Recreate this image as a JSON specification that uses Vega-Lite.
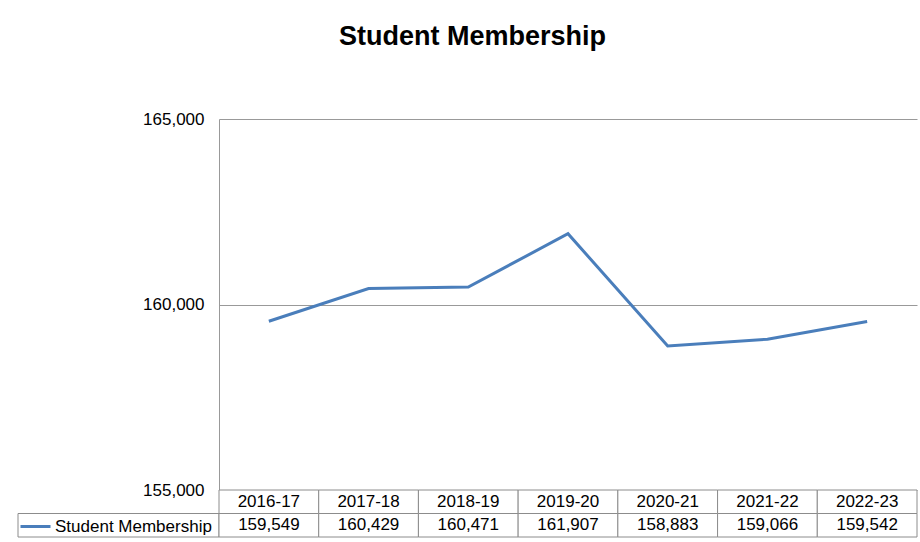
{
  "$schema": "https://vega.github.io/schema/vega-lite/v6.json",
  "padding": {"left": 17, "top": 23, "right": 3, "bottom": 5},
  "background": "white",
  "title": {"text": "Student Membership", "fontSize": 27, "font": "Liberation Sans", "fontWeight": "bold", "color": "black", "anchor": "middle", "offset": 59, "dx": 5},
  "data": {"values": [
    {"year": "2016-17", "members": 159549, "series": "Student Membership"},
    {"year": "2017-18", "members": 160429, "series": "Student Membership"},
    {"year": "2018-19", "members": 160471, "series": "Student Membership"},
    {"year": "2019-20", "members": 161907, "series": "Student Membership"},
    {"year": "2020-21", "members": 158883, "series": "Student Membership"},
    {"year": "2021-22", "members": 159066, "series": "Student Membership"},
    {"year": "2022-23", "members": 159542, "series": "Student Membership"}
  ]},
  "columns": 2,
  "spacing": 0,
  "bounds": "flush",
  "resolve": {"scale": {"x": "independent", "y": "independent", "color": "independent"}},
  "concat": [
    {"width": 201, "height": 371, "data": {"values": []}, "mark": "point"},
    {
      "width": 698, "height": 371,
      "mark": {"type": "line", "strokeWidth": 3},
      "encoding": {
        "x": {"field": "year", "type": "ordinal", "scale": {"type": "point", "padding": 0.5}, "axis": null},
        "y": {"field": "members", "type": "quantitative", "scale": {"domain": [155000, 165000], "zero": false, "nice": false},
          "axis": {"values": [155000, 160000, 165000], "labelExpr": "format(datum.value, ',')", "title": null, "ticks": false, "labelFontSize": 17, "labelPadding": 15, "labelColor": "black", "labelFont": "Liberation Sans", "domainColor": "#999999", "gridColor": "#999999", "grid": true}},
        "color": {"field": "series", "type": "nominal", "scale": {"range": ["#4a7ebb"]},
          "legend": {"orient": "none", "legendX": -200, "legendY": 391, "title": null, "symbolType": "stroke", "symbolSize": 900, "symbolStrokeWidth": 3, "labelFontSize": 17, "labelColor": "black", "labelFont": "Liberation Sans", "labelOffset": 3, "padding": 0}}
      }
    },
    {
      "width": 201, "height": 47,
      "data": {"values": [{"series": "Student Membership"}]},
      "mark": {"type": "rect", "fill": "transparent", "stroke": "#8c8c8c", "strokeWidth": 1},
      "encoding": {
        "y": {"datum": "value", "type": "nominal", "scale": {"domain": ["header", "value"], "type": "band", "paddingInner": 0, "paddingOuter": 0}, "axis": null}
      }
    },
    {
      "width": 698, "height": 47,
      "encoding": {
        "x": {"field": "year", "type": "ordinal", "scale": {"type": "band", "paddingInner": 0, "paddingOuter": 0}, "axis": null}
      },
      "layer": [
        {"mark": {"type": "rect", "fill": "white", "stroke": "#8c8c8c", "strokeWidth": 1},
          "encoding": {"y": {"datum": "header", "type": "nominal", "scale": {"domain": ["header", "value"], "type": "band", "paddingInner": 0, "paddingOuter": 0}, "axis": null}}},
        {"mark": {"type": "rect", "fill": "white", "stroke": "#8c8c8c", "strokeWidth": 1},
          "encoding": {"y": {"datum": "value", "type": "nominal"}}},
        {"mark": {"type": "text", "fontSize": 17, "font": "Liberation Sans", "color": "black"},
          "encoding": {"y": {"datum": "header", "type": "nominal"}, "text": {"field": "year", "type": "nominal"}}},
        {"mark": {"type": "text", "fontSize": 17, "font": "Liberation Sans", "color": "black"},
          "encoding": {"y": {"datum": "value", "type": "nominal"}, "text": {"field": "members", "type": "quantitative", "format": ","}}}
      ]
    }
  ],
  "config": {"view": {"stroke": null}, "font": "Liberation Sans"}
}
